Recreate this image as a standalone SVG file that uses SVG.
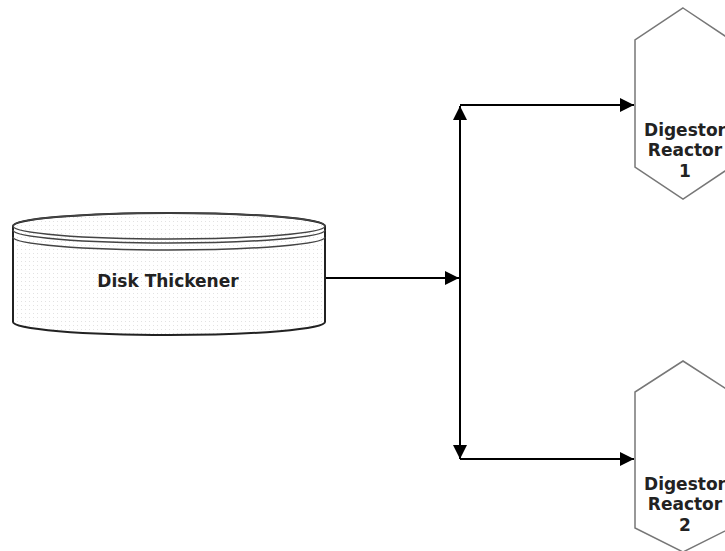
<svg xmlns="http://www.w3.org/2000/svg" width="725" height="551" viewBox="0 0 725 551">
  <defs>
    <pattern id="dots" width="4" height="4" patternUnits="userSpaceOnUse">
      <rect width="4" height="4" fill="#ffffff"/>
      <rect x="1" y="1" width="1" height="1" fill="#e2e2e2"/>
    </pattern>
    <marker id="arrowBig" viewBox="0 0 14 14" refX="14" refY="7" markerWidth="14" markerHeight="14" markerUnits="userSpaceOnUse" orient="auto">
      <path d="M0,0 L14,7 L0,14 Z" fill="#000"/>
    </marker>
  </defs>
  <style>
    .conn { fill: none; stroke: #000; stroke-width: 2; }
    .disk { fill: url(#dots); stroke: #222; stroke-width: 2; }
    .ring { fill: none; stroke: #444; stroke-width: 1.5; }
    .hex { fill: #ffffff; stroke: #777; stroke-width: 1.5; }
    .label { font-family: "DejaVu Sans", Verdana, sans-serif; font-weight: bold; font-size: 17px; fill: #222; text-anchor: middle; }
  </style>
  <rect width="725" height="551" fill="#ffffff"/>

  <g id="connectors">
    <line class="conn" x1="325" y1="278" x2="459" y2="278" marker-end="url(#arrowBig)"/>
    <line class="conn" x1="460" y1="280" x2="460" y2="106" marker-end="url(#arrowBig)"/>
    <line class="conn" x1="460" y1="276" x2="460" y2="459" marker-end="url(#arrowBig)"/>
    <line class="conn" x1="460" y1="105" x2="634" y2="105" marker-end="url(#arrowBig)"/>
    <line class="conn" x1="460" y1="459" x2="634" y2="459" marker-end="url(#arrowBig)"/>
  </g>

  <g id="disk-thickener">
    <path class="disk" d="M13,226 L13,322 A156,13 0 0 0 325,322 L325,226 A156,13 0 0 0 13,226 Z"/>
    <ellipse class="ring" cx="169" cy="226" rx="156" ry="13"/>
    <path class="ring" d="M13,230 A156,13 0 0 0 325,230"/>
    <path class="ring" d="M13,237 A156,13 0 0 0 325,237"/>
    <text class="label" x="168" y="287">Disk Thickener</text>
  </g>

  <g id="digestor-reactor-1">
    <polygon class="hex" points="683,8 731,40 731,167 683,199 635,167 635,40"/>
    <text class="label" x="685" y="136">Digestor</text>
    <text class="label" x="685" y="156">Reactor</text>
    <text class="label" x="685" y="177">1</text>
  </g>

  <g id="digestor-reactor-2">
    <polygon class="hex" points="683,361 731,392 731,528 683,552 635,528 635,392"/>
    <text class="label" x="685" y="490">Digestor</text>
    <text class="label" x="685" y="510">Reactor</text>
    <text class="label" x="685" y="531">2</text>
  </g>
</svg>
